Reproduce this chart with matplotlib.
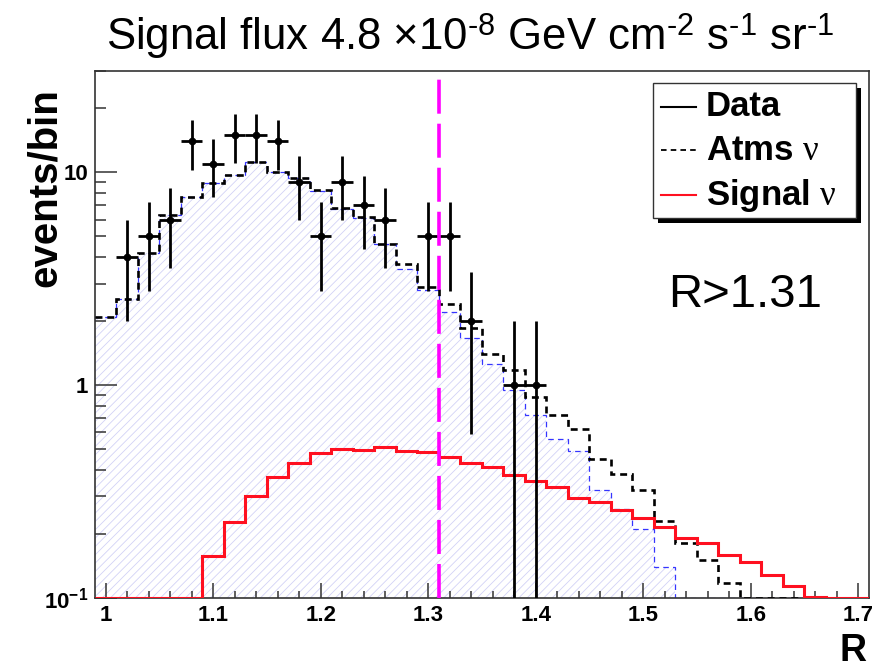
import numpy as np
import matplotlib
matplotlib.use("Agg")
import matplotlib.pyplot as plt
from matplotlib.patches import Rectangle
from matplotlib.lines import Line2D
from matplotlib.ticker import MultipleLocator, LogLocator, NullFormatter, FuncFormatter

plt.rcParams["font.family"] = ["Liberation Sans", "DejaVu Sans"]
plt.rcParams["font.weight"] = "bold"
plt.rcParams["mathtext.fontset"] = "custom"
plt.rcParams["mathtext.rm"] = "Liberation Sans:normal"
plt.rcParams["mathtext.bf"] = "Liberation Sans:bold"
plt.rcParams["mathtext.it"] = "Liberation Serif:normal"
plt.rcParams["lines.scale_dashes"] = False
plt.rcParams["hatch.color"] = "#d2d2f6"
plt.rcParams["hatch.linewidth"] = 0.6

# R binning: 36 bins of 0.02 from 0.99 to 1.71
r_lo, r_hi, n_bins = 0.99, 1.71, 36
edges = np.linspace(r_lo, r_hi, n_bins + 1)
centers = 0.5 * (edges[:-1] + edges[1:])

# observed events per bin
data_counts = [0, 4, 5, 6, 14, 11, 15, 15, 14, 9, 5, 9, 7, 6, 0, 5, 5, 2,
               0, 1, 1, 0, 0, 0, 0, 0, 0, 0, 0, 0, 0, 0, 0, 0, 0, 0]

# atmospheric neutrino expectation (total)
atm_total = [2.1, 2.55, 4.2, 6.3, 7.7, 8.9, 9.7, 11.2, 10.0, 9.4, 8.3, 6.8,
             6.2, 4.6, 3.7, 2.9, 2.4, 1.85, 1.4, 1.18, 0.88, 0.72, 0.62, 0.45,
             0.38, 0.32, 0.23, 0.18, 0.15, 0.117, 0, 0, 0, 0, 0, 0]

# conventional atmospheric component (hatched)
atm_conv = [2.1, 2.55, 4.2, 6.3, 7.7, 8.9, 9.7, 11.2, 10.0, 9.4, 8.2, 6.7,
            6.1, 4.6, 3.5, 2.8, 2.2, 1.67, 1.25, 0.95, 0.72, 0.56, 0.49, 0.32,
            0.26, 0.21, 0.14, 0, 0, 0, 0, 0, 0, 0, 0, 0]

# signal expectation for the quoted flux
signal = [0, 0, 0, 0, 0, 0.157, 0.226, 0.30, 0.37, 0.43, 0.478, 0.499,
          0.495, 0.513, 0.492, 0.483, 0.46, 0.43, 0.41, 0.378, 0.352, 0.333,
          0.294, 0.283, 0.259, 0.237, 0.216, 0.191, 0.181, 0.159, 0.147,
          0.128, 0.114, 0.101, 0, 0]

r_cut = 1.31
y_min, y_max = 0.1, 30

fig = plt.figure(figsize=(8.72, 6.65), dpi=100)
ax = fig.add_axes([0.1089, 0.1012, 0.8876, 0.7920])
ax.set_yscale("log")
ax.set_xlim(r_lo, r_hi)
ax.set_ylim(y_min, y_max)

# empty bins sit on the bottom of the frame
conv = np.maximum(atm_conv, y_min)
tot = np.maximum(atm_total, y_min)
sig = np.maximum(signal, y_min)

ax.stairs(conv, edges, baseline=y_min, fill=True, facecolor="none",
          edgecolor="#d2d2f6", hatch="////", linewidth=0, zorder=1)
ax.stairs(conv, edges, baseline=None, color="#3535ff", lw=0.9,
          linestyle=(0, (4, 3)), zorder=2)
ax.stairs(tot, edges, baseline=None, color="black", lw=1.9,
          linestyle=(0, (5, 3.5)), zorder=3)
ax.stairs(sig, edges, baseline=None, color="#ff1020", lw=2.2, zorder=4)

d = np.asarray(data_counts, float)
filled = d > 0
err_up = np.sqrt(d[filled])
err_dn = np.minimum(err_up, d[filled] - 1e-3)
half_w = np.diff(edges)[filled] / 2
ax.errorbar(centers[filled], d[filled], yerr=[err_dn, err_up], xerr=half_w,
            fmt="o", color="black", ms=4.5, elinewidth=2, capsize=0, zorder=5)

ax.axvline(r_cut, color="#ff00ff", lw=2.6, dashes=(24.5, 7.2), zorder=6)

# axes styling
ax.xaxis.set_major_locator(MultipleLocator(0.1))
ax.xaxis.set_minor_locator(MultipleLocator(0.02))
ax.xaxis.set_major_formatter(FuncFormatter(lambda v, p: f"{v:g}"))
ax.set_yticks([0.1, 1, 10], labels=[r"$\mathbf{10^{-1}}$", "1", "10"])
ax.yaxis.set_minor_locator(LogLocator(subs=np.arange(2, 10)))
ax.yaxis.set_minor_formatter(NullFormatter())
ax.tick_params(axis="x", which="major", direction="in", length=10.8,
               width=1.1, labelsize=16, pad=5, color="#333333")
ax.tick_params(axis="x", which="minor", direction="in", length=5,
               width=1.1, color="#333333")
ax.tick_params(axis="y", which="major", direction="in", length=15.8,
               width=1.1, labelsize=16, pad=5, color="#333333")
ax.tick_params(axis="y", which="minor", direction="in", length=8,
               width=1.1, color="#333333")
for s in ax.spines.values():
    s.set_color("#333333")
    s.set_linewidth(1.2)

fig.text(0.539, 0.925,
         r"Signal flux 4.8 ×10$^{\text{-8}}$ GeV cm$^{\text{-2}}$ "
         r"s$^{\text{-1}}$ sr$^{\text{-1}}$",
         ha="center", va="baseline", fontsize=31.5, fontweight="normal")
fig.text(45 / 872, 0.868, "events/bin", rotation=90, ha="center", va="top",
         fontsize=29)
fig.text(866 / 872, 0.006, "R", ha="right", va="baseline", fontsize=27)
ax.text(0.740, 0.575, "R>1.31", transform=ax.transAxes, ha="left",
        va="center", fontsize=34, fontweight="normal")

# legend box with drop shadow
bx, by, bw, bh = 0.721, 0.721, 0.262, 0.256
ax.add_patch(Rectangle((bx + 0.0065, by - 0.0095), bw, bh,
                       transform=ax.transAxes, facecolor="black",
                       edgecolor="none", zorder=9, clip_on=False))
ax.add_patch(Rectangle((bx, by), bw, bh, transform=ax.transAxes,
                       facecolor="white", edgecolor="#333333", lw=1.0,
                       zorder=10, clip_on=False))
entries = [
    ("Data", 0.932, dict(color="black", lw=1.5)),
    (r"Atms $\nu$", 0.850, dict(color="black", lw=1.3, dashes=(4, 3))),
    (r"Signal $\nu$", 0.764, dict(color="#ff1020", lw=1.5)),
]
for label, yy, style in entries:
    ax.add_line(Line2D([0.731, 0.777], [yy, yy], transform=ax.transAxes,
                       zorder=11, **style))
    ax.text(0.789, yy, label, transform=ax.transAxes, ha="left", va="center",
            fontsize=25, zorder=11)

fig.savefig("out.png", dpi=100)
